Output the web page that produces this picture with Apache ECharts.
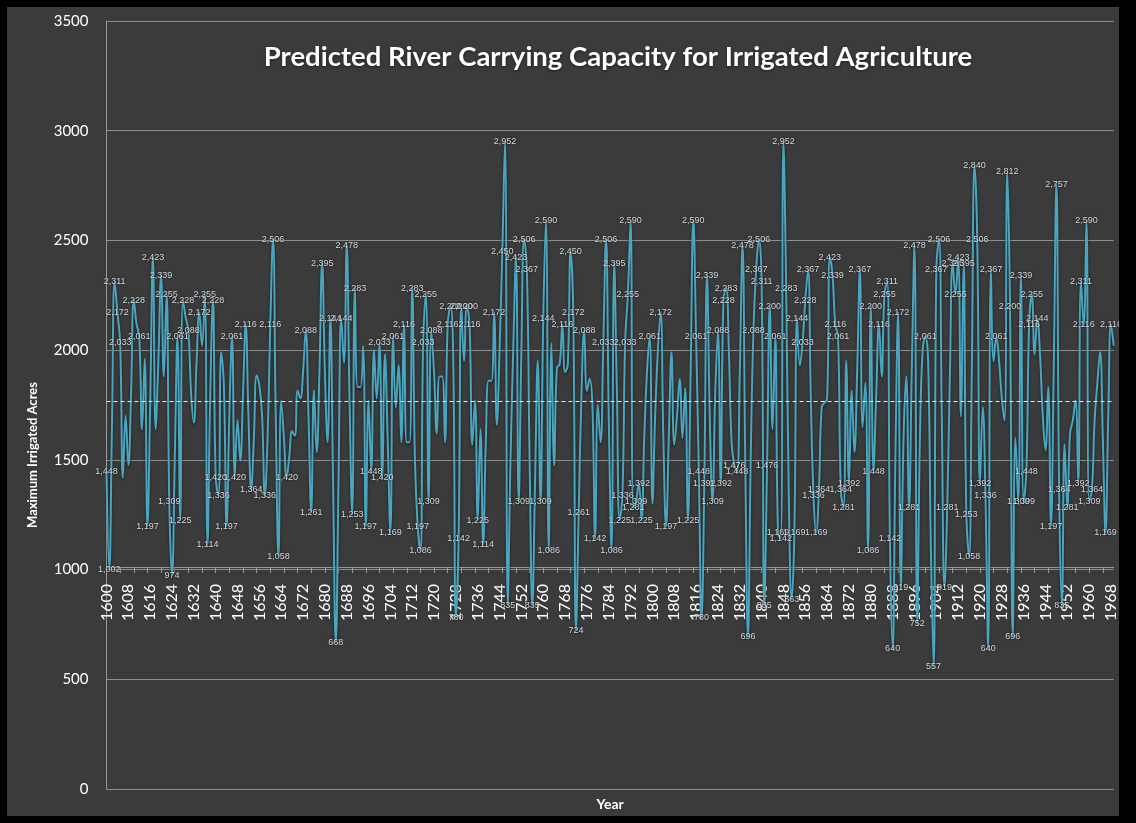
<!DOCTYPE html>
<html>
<head>
<meta charset="utf-8">
<title>Predicted River Carrying Capacity for Irrigated Agriculture</title>
<script src="https://cdn.jsdelivr.net/npm/echarts@6/dist/echarts.min.js"></script>
<style>
  html, body { margin: 0; padding: 0; background: #000; width: 1136px; height: 823px; overflow: hidden; }
  #chart { position: absolute; left: 7px; top: 7px; width: 1112px; height: 809px; background: #3b3b3b; }
</style>
</head>
<body>
<div id="chart"></div>
<script>
// Maximum irrigated acres supported by river flow, one value per year from 1600.
const FIRST_YEAR = 1600;

const acres1600s = [
  1448, 1002, 1650, 2311, 2172, 2033, 1420, 1700, 1476, 1800,
  2228, 2120, 2061, 1640, 1960, 1197, 1750, 2423, 1640, 1950,
  2339, 1880, 2255, 1309, 974, 1500, 2061, 1225, 2228, 2150,
  2088, 1800, 1670, 1950, 2172, 2020, 2255, 1114, 1800, 2228,
  1420, 1336, 1990, 1840, 1197, 1700, 2061, 1420, 1680, 1495,
  1800, 2116, 1700, 1364, 1600, 1885, 1840, 1700, 1336, 1600,
  2116, 2506, 1700, 1058, 1768, 1600, 1420, 1520, 1630, 1610,
  1815, 1780, 1900, 2088, 1700, 1261, 1815, 1535, 1900, 2395,
  1900, 1580, 2144, 1400, 668, 1400, 2144, 1942, 2478, 1800,
  1253, 2283, 1832, 1832, 2018, 1197, 1768, 1448, 2000, 1780
];

const acres1700s = [
  2033, 1420, 1980, 1600, 1169, 2061, 1740, 1930, 1580, 2116,
  1580, 1580, 2283, 1500, 1197, 1086, 2033, 2255, 1309, 2088,
  1900, 1620, 1880, 1880, 1580, 2116, 2200, 1980, 780, 1142,
  2200, 1950, 2200, 2116, 1570, 1768, 1225, 1640, 1114, 1600,
  1860, 1860, 2172, 1660, 2000, 2450, 2952, 835, 1495, 2000,
  2423, 1309, 2000, 2506, 2367, 1500, 835, 1400, 1950, 1309,
  2144, 2590, 1086, 2030, 1475, 1920, 1935, 2116, 1900, 1935,
  2450, 2172, 724, 1261, 1800, 2088, 1815, 1868, 1750, 1142,
  1750, 1580, 2033, 2506, 1700, 1086, 2395, 1800, 1225, 1336,
  2033, 2255, 2590, 1281, 1309, 1392, 1225, 1600, 1900, 2061
];

const acres1800s = [
  1300, 1700, 2000, 2172, 1600, 1197, 1600, 1990, 1570, 1700,
  1868, 1600, 1825, 1225, 1900, 2590, 2061, 1448, 780, 1392,
  2339, 1700, 1309, 1800, 2088, 1392, 2228, 2283, 2000, 1580,
  1476, 1448, 1900, 2478, 1500, 696, 1500, 2088, 2367, 2506,
  2311, 835, 1476, 2200, 1640, 2061, 1169, 1142, 2952, 2283,
  1300, 863, 1169, 2144, 1930, 2033, 2228, 2367, 1800, 1336,
  1169, 1364, 1740, 1760, 1780, 2423, 2339, 2116, 2061, 1364,
  1281, 1950, 1392, 1815, 1535, 1900, 2367, 1650, 1850, 1086,
  2200, 1448, 1800, 2116, 1880, 2255, 2311, 1142, 640, 1500,
  2172, 919, 1600, 1880, 1281, 1900, 2478, 752, 1600, 2000
];

const acres1900s = [
  2061, 1950, 1100, 557, 2367, 2506, 1700, 919, 1281, 1900,
  2395, 2255, 2423, 1700, 2395, 1253, 1058, 1900, 2840, 2506,
  1392, 1740, 1336, 640, 2367, 1950, 2061, 1950, 1780, 1680,
  2812, 2200, 696, 1600, 1309, 2339, 1309, 1448, 2116, 2255,
  1980, 2144, 1980, 1700, 1543, 1832, 1197, 1900, 2757, 1364,
  835, 1570, 1281, 1620, 1680, 1770, 1392, 2311, 2116, 2590,
  1309, 1364, 1680, 1850, 1990, 1600, 1169, 1700, 2116, 2020
];

// Years whose value is printed next to the line
const labelledYears = [
  1600, 1601, 1603, 1604, 1605, 1610, 1612, 1615, 1617, 1620, 1622, 1623, 1624, 1626, 1627, 1628,
  1630, 1634, 1636, 1637, 1639, 1640, 1641, 1644, 1646, 1647, 1651, 1653, 1658, 1660, 1661, 1663,
  1666, 1673, 1675, 1679, 1682, 1684, 1686, 1688, 1690, 1691, 1695, 1697,
  1700, 1701, 1704, 1705, 1709, 1712, 1714, 1715, 1716, 1717, 1718, 1719, 1725, 1726, 1728, 1729,
  1730, 1732, 1733, 1736, 1738, 1742, 1745, 1746, 1747, 1750, 1751, 1753, 1754, 1756, 1759, 1760,
  1761, 1762, 1767, 1770, 1771, 1772, 1773, 1775, 1779, 1782, 1783, 1785, 1786, 1788, 1789, 1790,
  1791, 1792, 1793, 1794, 1795, 1796, 1799,
  1803, 1805, 1813, 1815, 1816, 1817, 1818, 1819, 1820, 1822, 1824, 1825, 1826, 1827, 1830, 1831,
  1833, 1835, 1837, 1838, 1839, 1840, 1841, 1842, 1843, 1845, 1846, 1847, 1848, 1849, 1851, 1852,
  1853, 1855, 1856, 1857, 1859, 1860, 1861, 1865, 1866, 1867, 1868, 1869, 1870, 1872, 1876, 1879,
  1880, 1881, 1883, 1885, 1886, 1887, 1888, 1890, 1891, 1894, 1896, 1897,
  1900, 1903, 1904, 1905, 1907, 1908, 1910, 1911, 1912, 1914, 1915, 1916, 1918, 1919, 1920, 1922,
  1923, 1924, 1926, 1930, 1931, 1932, 1934, 1935, 1936, 1937, 1938, 1939, 1941, 1946, 1948, 1949,
  1950, 1952, 1956, 1957, 1958, 1959, 1960, 1961, 1966, 1968
];

// Long-run average drawn as a dashed reference line
const MEAN_ACRES = 1768;

// Value axis range; the year axis crosses it at 1000 acres
const Y_MIN = 0, Y_MAX = 3500, Y_STEP = 500, AXIS_CROSS_AT = 1000;

const acres = [].concat(acres1600s, acres1700s, acres1800s, acres1900s);
const years = acres.map((_, i) => String(FIRST_YEAR + i));
const labelSet = new Set(labelledYears);

const seriesData = acres.map((v, i) =>
  labelSet.has(FIRST_YEAR + i) ? { value: v, label: { show: true } } : v
);

const GRID_TOP = 14, GRID_BOTTOM = 18;
const plotHeight = 809 - GRID_TOP - GRID_BOTTOM;
const crossOffset = -plotHeight * (AXIS_CROSS_AT - Y_MIN) / (Y_MAX - Y_MIN);

const chart = echarts.init(document.getElementById('chart'), null, { renderer: 'canvas' });

chart.setOption({
  animation: false,
  backgroundColor: '#3b3b3b',
  textStyle: { fontFamily: 'Lato, "Open Sans", sans-serif' },
  title: {
    text: 'Predicted River Carrying Capacity for Irrigated Agriculture',
    left: 611,
    top: 36,
    textAlign: 'center',
    padding: 0,
    textStyle: {
      color: '#ffffff',
      fontSize: 27.5,
      fontWeight: 'bold',
      fontFamily: 'Lato, sans-serif',
      textShadowColor: 'rgba(0,0,0,0.5)',
      textShadowBlur: 3,
      textShadowOffsetY: 1
    }
  },
  grid: { left: 99.5, right: 0.5, top: GRID_TOP, bottom: GRID_BOTTOM, containLabel: false },
  xAxis: {
    type: 'category',
    data: years,
    boundaryGap: false,
    offset: crossOffset,
    name: 'Year',
    nameLocation: 'middle',
    nameGap: 230,
    nameTextStyle: { color: '#ffffff', fontSize: 14, fontWeight: 'bold', fontFamily: 'Lato, sans-serif' },
    axisLine: { show: true, onZero: false, lineStyle: { color: '#9a9a9a', width: 1 } },
    axisTick: { show: true, interval: 4, length: 6, lineStyle: { color: '#9a9a9a' } },
    axisLabel: {
      interval: 7,
      rotate: 90,
      margin: 17,
      color: '#ffffff',
      fontSize: 16,
      fontFamily: 'Lato, sans-serif'
    },
    splitLine: { show: false }
  },
  yAxis: {
    type: 'value',
    min: Y_MIN,
    max: Y_MAX,
    interval: Y_STEP,
    axisLine: { show: true, lineStyle: { color: '#9a9a9a', width: 1 } },
    axisTick: { show: false },
    axisLabel: {
      color: '#ffffff',
      fontSize: 15,
      margin: 18,
      fontFamily: 'Lato, sans-serif',
      formatter: v => String(v)
    },
    splitLine: { show: true, lineStyle: { color: '#8f8f8f', width: 1 } }
  },
  graphic: [{
    type: 'text',
    x: 26,
    y: 448,
    rotation: Math.PI / 2,
    style: {
      text: 'Maximum Irrigated Acres',
      fill: '#ffffff',
      font: 'bold 13px Lato, sans-serif',
      textAlign: 'center',
      textVerticalAlign: 'middle'
    }
  }],
  series: [{
    type: 'line',
    name: 'Maximum Irrigated Acres',
    data: seriesData,
    smooth: 0.45,
    showSymbol: true,
    showAllSymbol: true,
    symbol: 'circle',
    symbolSize: 1,
    itemStyle: { color: '#4aa5bf' },
    lineStyle: {
      color: '#4aa5bf',
      width: 2,
      shadowColor: 'rgba(0,0,0,0.55)',
      shadowBlur: 3,
      shadowOffsetY: 2
    },
    label: {
      show: false,
      position: 'inside',
      formatter: p => Number(p.value).toLocaleString('en-US'),
      color: '#d6dbe0',
      fontSize: 9,
      fontFamily: '"Liberation Sans", sans-serif',
      textShadowColor: 'rgba(0,0,0,0.8)',
      textShadowBlur: 2
    },
    labelLayout: { hideOverlap: false },
    markLine: {
      silent: true,
      symbol: ['none', 'none'],
      label: { show: false },
      lineStyle: { color: '#e8e8e8', type: [4, 3], width: 1 },
      data: [{ yAxis: MEAN_ACRES }]
    },
    z: 3
  }]
});
</script>
</body>
</html>
